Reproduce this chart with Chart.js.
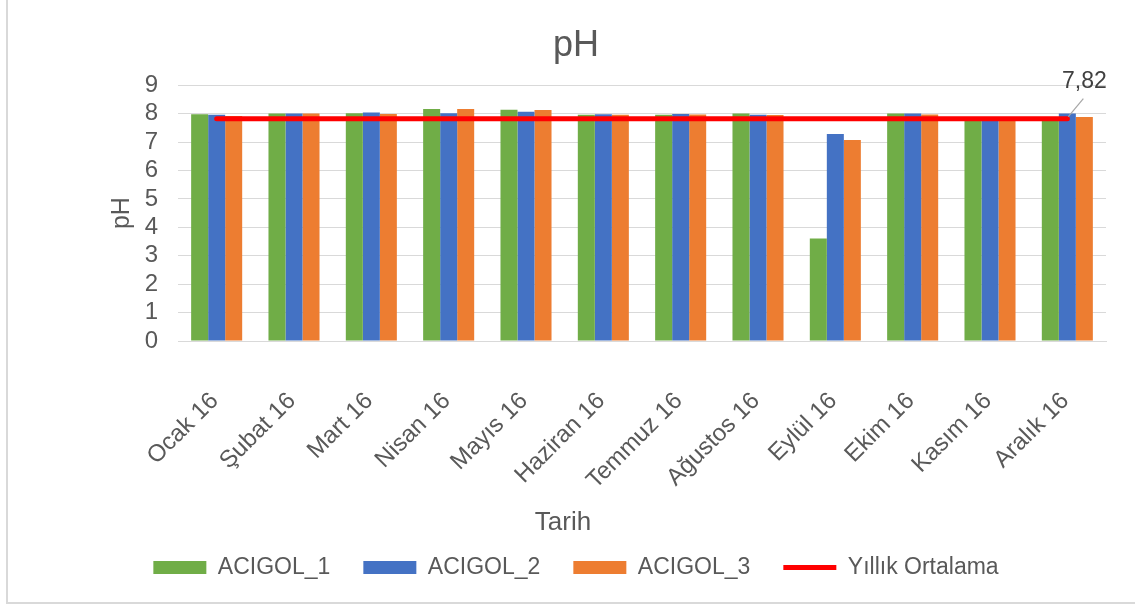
<!DOCTYPE html>
<html>
<head>
<meta charset="utf-8">
<script src="https://cdn.jsdelivr.net/npm/chart.js@4"></script>
<style>
body { margin: 0; background: #fff; }
#frame { position: absolute; left: 6px; top: -2px; width: 1200px; height: 604px;
  border-left: 2px solid #d9d9d9; border-bottom: 2px solid #d9d9d9; }
#chartph { position: absolute; left: 0; top: 0; }
</style>
</head>
<body>
<div id="frame"></div>
<canvas id="chartph" width="1135" height="605"></canvas>
<script>
// aylar
var aylar = ['Ocak 16','Şubat 16','Mart 16','Nisan 16','Mayıs 16','Haziran 16','Temmuz 16','Ağustos 16','Eylül 16','Ekim 16','Kasım 16','Aralık 16'];
var acigol1 = [7.98, 8.00, 8.01, 8.16, 8.14, 7.96, 7.96, 8.00, 3.61, 8.00, 7.88, 7.87];
var acigol2 = [7.96, 8.00, 8.04, 8.01, 8.07, 7.98, 7.99, 7.96, 7.28, 8.00, 7.88, 8.00];
var acigol3 = [7.92, 8.00, 7.99, 8.16, 8.13, 7.96, 7.97, 7.95, 7.07, 7.97, 7.88, 7.88];
var ortalama = [7.82, 7.82, 7.82, 7.82, 7.82, 7.82, 7.82, 7.82, 7.82, 7.82, 7.82, 7.82];
var ortalamaEtiket = '7,82';
var xBaslik = 'Tarih';

var yazi = '"Liberation Sans", Arial, sans-serif';
var gri = '#595959';

// son noktaya etiket + x ekseni basligi
const etiketPlugin = {
    id: 'etiket',
    afterDraw(chart) {
        const meta = chart.getDatasetMeta(3);
        const p = meta.data[meta.data.length - 1];
        const ctx = chart.ctx;
        ctx.save();
        ctx.strokeStyle = '#a6a6a6';
        ctx.lineWidth = 1.2;
        ctx.beginPath();
        ctx.moveTo(p.x + 1, p.y - 2);
        ctx.lineTo(p.x + 16, p.y - 20);
        ctx.stroke();
        ctx.fillStyle = '#404040';
        ctx.font = '23px ' + yazi;
        ctx.textAlign = 'center';
        ctx.textBaseline = 'middle';
        ctx.fillText(ortalamaEtiket, p.x + 17, p.y - 37);

        const lg = chart.legend;
        ctx.fillStyle = gri;
        ctx.font = '26px ' + yazi;
        ctx.fillText(xBaslik, (lg.left + lg.right) / 2 - 13, chart.scales.x.bottom);
        ctx.restore();
    }
};

const dt = {
    labels: aylar,
    datasets: [
        { label: 'ACIGOL_1', data: acigol1, backgroundColor: '#70ad47', pointStyle: 'rect' },
        { label: 'ACIGOL_2', data: acigol2, backgroundColor: '#4472c4', pointStyle: 'rect' },
        { label: 'ACIGOL_3', data: acigol3, backgroundColor: '#ed7d31', pointStyle: 'rect' },
        { type: 'line', label: 'Yıllık Ortalama', data: ortalama, borderColor: '#ff0000',
          backgroundColor: '#ff0000', borderWidth: 5, pointRadius: 0, borderCapStyle: 'round',
          pointStyle: 'line', order: -1 }
    ]
};

const config_chartph = {
    type: 'bar',
    data: dt,
    options: {
        responsive: false,
        animation: false,
        datasets: { bar: { categoryPercentage: 0.66, barPercentage: 1.0 } },
        layout: { padding: { left: 46, right: 29, top: 18, bottom: 16 } },
        plugins: {
            title: { display: true, text: 'pH', color: gri, font: { family: yazi, size: 36, weight: 'normal' },
                     padding: { top: 6, bottom: 18 } },
            legend: {
                position: 'bottom',
                labels: {
                    usePointStyle: true, pointStyleWidth: 53, boxHeight: 13,
                    color: gri, font: { family: yazi, size: 23 }, padding: 33,
                    sort: (a, b) => a.datasetIndex - b.datasetIndex
                }
            },
            tooltip: { enabled: false }
        },
        scales: {
            x: {
                grid: { display: false },
                border: { color: '#d9d9d9' },
                ticks: { color: gri, font: { family: yazi, size: 24 }, maxRotation: 45, minRotation: 45,
                         padding: 38, labelOffset: -2, autoSkip: false },
                afterFit: function(scale) { scale.height = 182; }
            },
            y: {
                min: 0, max: 9,
                grid: { color: '#d9d9d9', drawTicks: false },
                border: { display: false },
                ticks: { stepSize: 1, color: gri, font: { family: yazi, size: 24 }, padding: 20, autoSkip: false },
                title: { display: true, text: 'pH', color: gri, font: { family: yazi, size: 25 }, padding: { top: 61, bottom: 8 } },
                afterFit: function(scale) { scale.width = 132; }
            }
        }
    },
    plugins: [etiketPlugin]
};

const chartph_data = new Chart(
    document.getElementById('chartph'),
    config_chartph
);
</script>
</body>
</html>
